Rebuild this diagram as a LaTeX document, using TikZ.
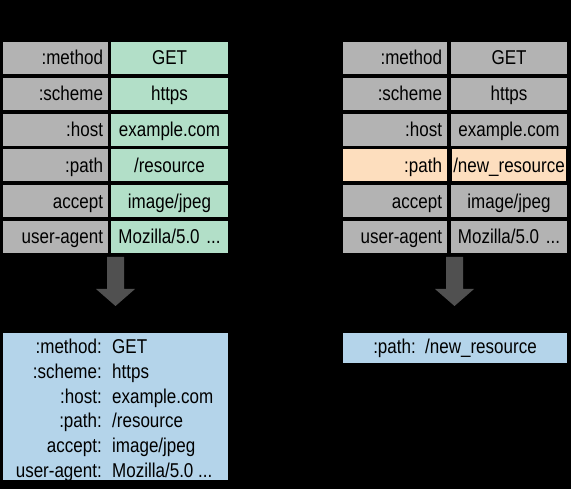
\documentclass[tikz,border=0pt]{standalone}
\usepackage{fontspec}
\setmainfont{Liberation Sans}[FakeStretch=0.85]
\definecolor{cellgray}{RGB}{179,179,179}
\definecolor{cellgreen}{RGB}{178,223,200}
\definecolor{cellpeach}{RGB}{253,222,190}
\definecolor{cellblue}{RGB}{180,212,234}
\definecolor{arrowgray}{RGB}{80,80,80}
\newcommand\mozval{Mozilla/5.0 ...}
\begin{document}
\begin{tikzpicture}[x=1pt,y=-1pt,
  every node/.style={font=\fontsize{20}{24}\selectfont, text=black},
  namecell/.style={fill=cellgray, minimum height=32pt, inner ysep=0pt, inner xsep=5pt,
    text width=#1, align=right, text height=16pt, text depth=2pt},
  valcell/.style={fill=cellgreen, minimum height=32pt, inner ysep=0pt, inner xsep=1pt,
    text width=#1, align=center, text height=16pt, text depth=2pt},
  bluebox/.style={fill=cellblue, inner sep=0pt},
  bigarrow/.style={fill=arrowgray}]
\useasboundingbox (0,0) rectangle (571,489);
\fill[black] (0,0) rectangle (571,489);

% left table
\foreach \i/\k/\v/\y in {1/:method/GET/58, 2/:scheme/https/93.8, 3/:host/example.com/129.6,
   4/:path/\slash resource/165.4, 5/accept/image\slash jpeg/201.2, 6/user-agent/\mozval/237}{
  \node[namecell=95pt] (lk\i) at (55.5,\y) {\k};
  \node[valcell=115pt] (lv\i) at (169.5,\y) {\v};
}
% right table
\foreach \i/\k/\v/\y in {1/:method/GET/58, 2/:scheme/https/93.8, 3/:host/example.com/129.6,
   5/accept/image\slash jpeg/201.2, 6/user-agent/\mozval/237}{
  \node[namecell=94pt] (rk\i) at (395,\y) {\k};
  \node[valcell=114pt, fill=cellgray] (rv\i) at (509,\y) {\v};
}
\node[namecell=94pt, fill=cellpeach] (rk4) at (395,165.4) {:path};
\node[valcell=114pt, fill=cellpeach, inner xsep=0pt] (rv4) at (509,165.4) {/new\_resource};

% arrows
\fill[bigarrow] (107,257) -- (124,257) -- (124,289) -- (135,289) -- (115.5,306)
  -- (96,289) -- (107,289) -- cycle;
\fill[bigarrow] (446,257) -- (463,257) -- (463,289) -- (474,289) -- (454.5,306)
  -- (435,289) -- (446,289) -- cycle;

% left result box
\fill[cellblue] (3,333) rectangle (228,480);
\foreach \i/\k/\v/\b in {1/:method:/GET/354, 2/:scheme:/https/378.6, 3/:host:/example.com/403.2,
   4/:path:/\slash resource/427.8, 5/accept:/image\slash jpeg/452.4, 6/user-agent:/\mozval/477}{
  \node[anchor=base east, inner sep=0pt] (bk\i) at (102,\b) {\k};
  \node[anchor=base west, inner sep=0pt] (bv\i) at (112,\b) {\v};
}

% right result box
\node[bluebox, minimum width=224pt, minimum height=30pt] (rbox) at (455,348) {};
\node[anchor=base, inner sep=0pt] (rboxtext) at (455,354) {:path:\ \ /new\_resource};
\end{tikzpicture}
\end{document}
